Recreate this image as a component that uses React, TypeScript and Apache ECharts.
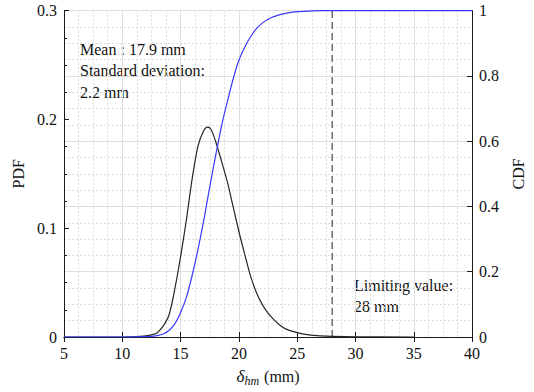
import React, { useEffect, useRef } from "react";
import * as echarts from "echarts";

const FONT = '"Liberation Serif", "Times New Roman", serif';

// x values (mm) for PDF curve
const X_PDF = [5, 10, 11, 11.5, 12, 12.5, 13, 13.5, 14, 14.5, 15, 15.5, 16, 16.5, 17, 17.3, 17.6, 18, 18.5, 19, 19.5, 20, 20.5, 21, 21.5, 22, 22.5, 23, 23.5, 24, 25, 26, 27, 28, 30, 35];
const PDF = [0, 0, 0.0002, 0.0005, 0.001, 0.002, 0.004, 0.01, 0.02, 0.044, 0.074, 0.108, 0.146, 0.176, 0.19, 0.193, 0.191, 0.18, 0.162, 0.143, 0.12, 0.097, 0.076, 0.056, 0.041, 0.03, 0.022, 0.016, 0.011, 0.0075, 0.004, 0.002, 0.001, 0.0005, 0.0001, 0];

// x values (mm) for CDF curve
const X_CDF = [5, 10, 11, 12, 12.5, 13, 13.5, 14, 14.5, 15, 15.5, 16, 16.5, 17, 17.5, 18, 18.5, 19, 19.5, 20, 20.5, 21, 21.5, 22, 22.5, 23, 24, 25, 26, 27, 30, 35, 40];
const CDF = [0, 0, 0.0003, 0.001, 0.002, 0.004, 0.009, 0.02, 0.04, 0.075, 0.122, 0.19, 0.27, 0.36, 0.46, 0.555, 0.645, 0.72, 0.79, 0.848, 0.888, 0.92, 0.945, 0.962, 0.974, 0.982, 0.992, 0.997, 0.999, 1, 1, 1, 1];

const LIMIT_X = [28, 28];
const LIMIT_Y = [0, 0.3];

const X_TICKS = { min: 5, max: 40, interval: 5 };
const PDF_TICKS = { min: 0, max: 0.3, interval: 0.1 };
const CDF_TICKS = { min: 0, max: 1, interval: 0.2 };

const ANNOT_STATS = ["Mean : 17.9 mm", "Standard deviation:", "2.2 mm"];
const ANNOT_LIMIT = ["Limiting value:", "28 mm"];

export default function App() {
  const ref = useRef<HTMLDivElement>(null);
  useEffect(() => {
    const chart = echarts.init(ref.current!, null, { renderer: "svg" });
    const axisLine = { show: true, lineStyle: { color: "#1a1a1a", width: 1 } };
    const labelStyle = { fontFamily: FONT, fontSize: 16, color: "#111" };
    const gridSolid = { show: true, lineStyle: { color: "#dedede", width: 1, type: "solid" } };
    const gridMinor = { show: true, lineStyle: { color: "#dcdcdc", width: 1, type: [2, 2] } };

    const annot: any[] = [];
    ANNOT_STATS.forEach((t, i) =>
      annot.push({
        type: "text",
        left: 80,
        top: 41 + i * 21.5,
        style: { text: t, fontFamily: FONT, fontSize: 16, fill: "#111" },
      })
    );
    ANNOT_LIMIT.forEach((t, i) =>
      annot.push({
        type: "text",
        left: 354,
        top: 277 + i * 21,
        style: { text: t, fontFamily: FONT, fontSize: 16, fill: "#111" },
      })
    );

    chart.setOption({
      animation: false,
      backgroundColor: "#fff",
      grid: { left: 64, right: 55, top: 10.7, bottom: 54, containLabel: false },
      xAxis: [
        {
          type: "value",
          position: "bottom",
          min: X_TICKS.min,
          max: X_TICKS.max,
          interval: X_TICKS.interval,
          axisLine,
          axisTick: { show: true, inside: true, length: 5, lineStyle: { color: "#1a1a1a" } },
          axisLabel: { ...labelStyle, margin: 8 },
          splitLine: gridSolid,
          minorTick: { show: false, splitNumber: 4 },
          minorSplitLine: gridMinor,
          name: "{d|δ}{s|hm} (mm)",
          nameLocation: "middle",
          nameGap: 28,
          nameTextStyle: {
            fontFamily: FONT,
            fontSize: 16,
            color: "#111",
            rich: {
              d: { fontFamily: FONT, fontSize: 17, fontStyle: "italic", color: "#111" },
              s: { fontFamily: FONT, fontSize: 12, fontStyle: "italic", color: "#111", padding: [10, 1, 0, 0] },
            },
          },
        },
        {
          type: "value",
          position: "top",
          min: X_TICKS.min,
          max: X_TICKS.max,
          interval: X_TICKS.interval,
          axisLine,
          axisTick: { show: true, inside: true, length: 5, lineStyle: { color: "#1a1a1a" } },
          axisLabel: { show: false },
          splitLine: { show: false },
        },
      ],
      yAxis: [
        {
          type: "value",
          position: "left",
          min: PDF_TICKS.min,
          max: PDF_TICKS.max,
          interval: PDF_TICKS.interval,
          axisLine,
          axisTick: { show: true, inside: true, length: 5, lineStyle: { color: "#1a1a1a" } },
          minorTick: { show: true, splitNumber: 4, length: 3, lineStyle: { color: "#1a1a1a" } },
          axisLabel: { ...labelStyle, margin: 7 },
          splitLine: { show: false },
          name: "PDF",
          nameLocation: "middle",
          nameRotate: 90,
          nameGap: 34,
          nameTextStyle: { fontFamily: FONT, fontSize: 16, color: "#111" },
        },
        {
          type: "value",
          position: "right",
          min: CDF_TICKS.min,
          max: CDF_TICKS.max,
          interval: CDF_TICKS.interval,
          axisLine,
          axisTick: { show: true, inside: true, length: 5, lineStyle: { color: "#1a1a1a" } },
          minorTick: { show: false, splitNumber: 4 },
          axisLabel: { ...labelStyle, margin: 7 },
          splitLine: gridSolid,
          minorSplitLine: gridMinor,
          name: "CDF",
          nameLocation: "middle",
          nameRotate: 90,
          nameGap: 30,
          nameTextStyle: { fontFamily: FONT, fontSize: 16, color: "#111" },
        },
      ],
      series: [
        {
          type: "line",
          name: "PDF",
          xAxisIndex: 0,
          yAxisIndex: 0,
          data: X_PDF.map((x, i) => [x, PDF[i]]),
          showSymbol: false,
          smooth: 0.3,
          lineStyle: { color: "#262626", width: 1.2 },
          z: 3,
        },
        {
          type: "line",
          name: "CDF",
          xAxisIndex: 0,
          yAxisIndex: 1,
          data: X_CDF.map((x, i) => [x, CDF[i]]),
          showSymbol: false,
          smooth: 0.3,
          lineStyle: { color: "#3a3aff", width: 1.2 },
          z: 4,
        },
        {
          type: "line",
          name: "Limit",
          xAxisIndex: 0,
          yAxisIndex: 0,
          data: LIMIT_X.map((x, i) => [x, LIMIT_Y[i]]),
          showSymbol: false,
          lineStyle: { color: "#555", width: 1.3, type: [7, 4] },
          z: 2,
        },
      ],
      graphic: annot,
    });
    return () => chart.dispose();
  }, []);
  return (
    <div
      ref={ref}
      style={{ position: "fixed", left: 0, top: 0, width: 534, height: 392, background: "#fff" }}
    />
  );
}
